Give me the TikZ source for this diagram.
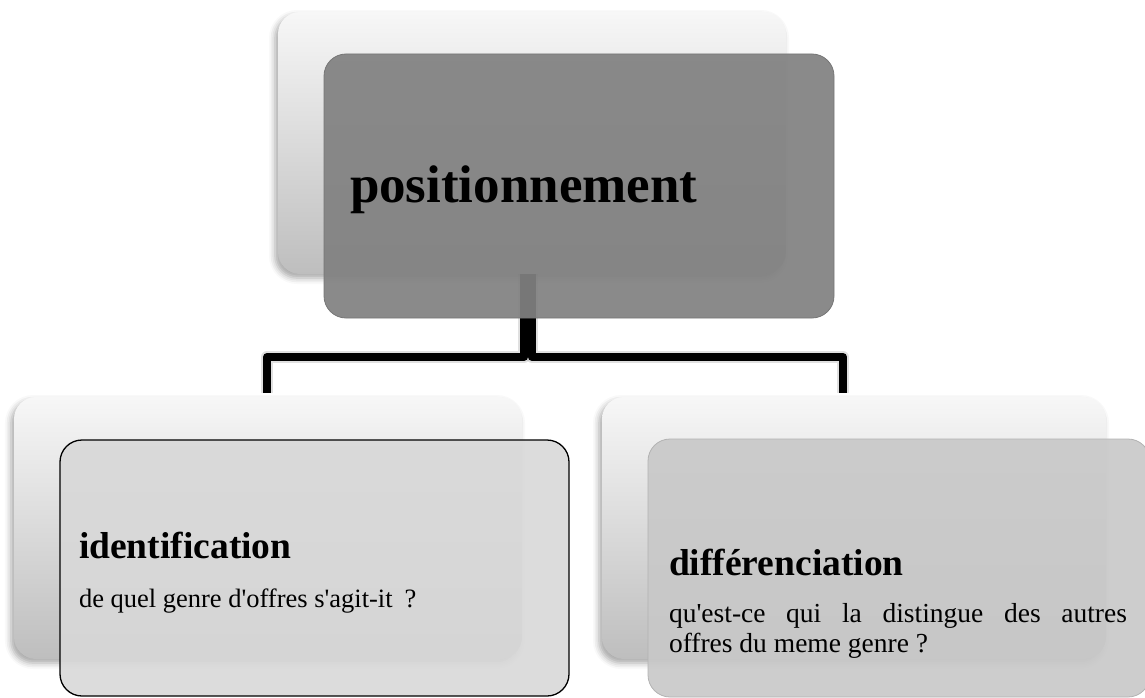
\documentclass[tikz,border=0pt]{standalone}
\usepackage{fontspec}
\setmainfont{Liberation Serif}[Ligatures=TeXOff]
\usetikzlibrary{shadows.blur}
\definecolor{backtop}{RGB}{247,247,247}
\definecolor{backmid}{RGB}{230,230,230}
\definecolor{backbot}{RGB}{190,190,190}
\definecolor{posfill}{RGB}{129,129,129}
\definecolor{posline}{RGB}{118,118,118}
\definecolor{idfill}{RGB}{216,216,216}
\definecolor{difffill}{RGB}{200,200,200}
\definecolor{diffline}{RGB}{178,178,178}
\begin{document}
\begin{tikzpicture}[x=1pt,y=-1pt,
  box/.style={rectangle, rounded corners=22pt, inner sep=0pt, outer sep=0pt},
  backbox/.style={box, top color=backtop, middle color=backmid, bottom color=backbot,
    blur shadow={shadow xshift=-3pt, shadow yshift=-4pt, shadow blur radius=6pt, shadow opacity=35}},
  posbox/.style={box, fill=posfill, fill opacity=0.925, draw=posline, line width=0.8pt},
  idbox/.style={box, fill=idfill, fill opacity=0.9, draw=black, line width=1.3pt},
  diffbox/.style={box, fill=difffill, fill opacity=0.9, draw=diffline, line width=0.8pt},
  conn/.style={line width=8pt, black, line join=round},
  connshadow/.style={line width=12pt, black, opacity=0.12, line join=round},
  tnode/.style={inner sep=0pt, outer sep=0pt, anchor=base west},
  headfont/.style={font=\fontsize{53}{60}\selectfont\bfseries},
  subhead/.style={font=\fontsize{37.5}{42}\selectfont\bfseries},
  subtextl/.style={font=\fontsize{26.5}{30}\selectfont},
  subtextr/.style={font=\fontsize{27.5}{30}\selectfont},
]
\useasboundingbox (0,0) rectangle (1145,698);

% back boxes
\node[backbox, minimum width=508pt, minimum height=262pt] (pb) at (532,143) {};
\node[backbox, minimum width=508pt, minimum height=262pt] (lb) at (268,528) {};
\node[backbox, minimum width=504pt, minimum height=262pt] (rb) at (854,528) {};

% connectors
\coordinate (lend) at (267,393);
\coordinate (rend) at (843,393);
\draw[connshadow, xshift=-1.5pt, yshift=-2.5pt] ([xshift=-8pt]pb.south) -- ++(0,83) -| (lend);
\draw[connshadow, xshift=-1.5pt, yshift=-2.5pt] (pb.south) -- ++(0,83) -| (rend);
\draw[conn] ([xshift=-8pt]pb.south) -- ++(0,83) -| (lend);
\draw[conn] (pb.south) -- ++(0,83) -| (rend);

% front boxes
\node[posbox, minimum width=510pt, minimum height=264pt] (pf) at (579,186) {};
\node[idbox, minimum width=509pt, minimum height=256pt] (lf) at (314.5,568) {};
\node[diffbox, minimum width=502pt, minimum height=258pt] (rf) at (899,568) {};

% texts
\node[tnode, headfont] (tpos) at (350,202) {positionnement};
\node[tnode, subhead] (tid) at (79,558) {identification};
\node[tnode, subtextl] (tidsub) at (79,607.5) {de quel genre d'offres s'agit-it\hspace{12pt}?};
\node[tnode, subhead] (tdiff) at (669,575) {différenciation};
\node[tnode, subtextr, text width=458pt, align=justify] (tdiffsub) at (669,622)
  {qu'est-ce qui la distingue des autres\linebreak offres du meme genre ?};
\end{tikzpicture}
\end{document}
